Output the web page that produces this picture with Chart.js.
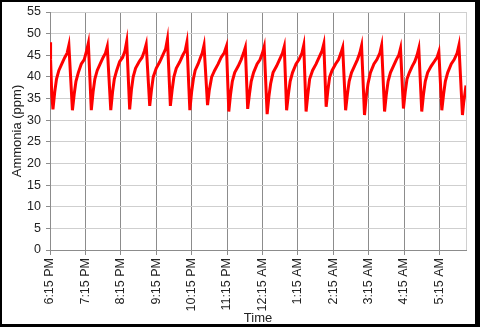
<!DOCTYPE html>
<html>
<head>
<meta charset="utf-8">
<script src="https://cdn.jsdelivr.net/npm/chart.js@4"></script>
<style>
  html, body { margin: 0; padding: 0; background: #fff; }
  #frame {
    width: 480px; height: 327px; box-sizing: border-box;
    border-style: solid; border-color: #000;
    border-width: 2px 5px 3px 2px;
    background: #fff;
  }
  #wrap { position: relative; width: 473px; height: 322px; }
</style>
</head>
<body>
<div id="frame"><div id="wrap"><canvas id="chart"></canvas></div></div>
<script>
// minutes after 6:15 PM
const minutes = [
  0, 1, 3, 5,
  8, 11, 15, 20, 25, 29, 32, 38,
  41, 44, 48, 53, 58, 62, 65, 70,
  73, 76, 80, 85, 90, 94, 97, 103,
  106, 109, 113, 118, 123, 127, 130, 135,
  138, 141, 145, 151, 156, 160, 163, 169,
  172, 175, 180, 186, 191, 196, 199, 204,
  207, 210, 214, 220, 225, 229, 232, 237,
  240, 243, 246, 251, 255, 258, 261, 267,
  270, 274, 279, 285, 290, 295, 299, 303,
  306, 309, 313, 319, 324, 328, 331, 335,
  338, 341, 345, 351, 356, 360, 363, 368,
  371, 374, 378, 384, 389, 394, 397, 401,
  404, 407, 411, 417, 422, 427, 430, 434,
  437, 440, 445, 451, 456, 461, 464, 468,
  471, 474, 478, 484, 489, 493, 496, 501,
  504, 507, 511, 516, 521, 525, 528, 533,
  536, 539, 543, 549, 554, 559, 562, 567,
  570, 573, 577, 582, 587, 591, 594, 599,
  602, 605, 609, 614, 618, 622, 625, 630,
  633, 636, 640, 646, 651, 656, 659, 664,
  667, 670, 674, 680, 685, 690, 693, 699,
  701, 703, 705
];

// ammonia (ppm)
const ammonia = [
  48, 44, 36, 32.5,
  36.5, 39.5, 41.5, 43, 44.5, 45.5, 47.3, 32.3,
  36, 39, 41, 43, 44, 46, 47.8, 32.3,
  36.5, 39.5, 41.5, 43, 44.5, 45.5, 47, 32.3,
  36.5, 39.5, 41.5, 43.5, 44.5, 46, 48.2, 32.5,
  37, 40, 42, 43.5, 44.5, 46, 47.5, 33.3,
  37, 40, 42, 43.5, 45, 46.5, 48.7, 33.3,
  37, 40, 42, 43.5, 45, 46, 48, 32.3,
  36.5, 39.5, 41.5, 43, 44.5, 45.5, 47.3, 33.5,
  37, 40, 41.5, 43, 44.5, 45.5, 47.1, 32,
  36, 39, 41, 42.5, 44, 45.5, 46.8, 32.6,
  36, 39, 41, 43, 44, 45.5, 47, 31.4,
  35.5, 38.5, 41, 42.5, 44, 45.5, 47, 32.3,
  36, 39, 41, 43, 44, 45.5, 47.3, 32,
  36, 39.5, 41.5, 43, 44.5, 46, 47.6, 33.1,
  37, 40, 41.5, 43, 44, 45.5, 46.8, 32.3,
  36, 39, 41, 42.5, 44, 45.5, 47.2, 31.2,
  35.5, 38.5, 41, 43, 44, 45.5, 47.3, 32,
  36, 39, 41, 42.5, 44, 45, 46.6, 32.7,
  36.5, 39.5, 41, 42.5, 43.5, 45, 46.6, 32,
  36, 39, 41, 42.5, 43.5, 44.5, 45.8, 32.3,
  36, 39, 41, 43, 44, 45.5, 47.3, 31.2,
  34, 36, 38
];

const yTicks = [0, 5, 10, 15, 20, 25, 30, 35, 40, 45, 50, 55];
const xTickStep = 60;
const startClock = 18 * 60 + 15; // 6:15 PM

function clockLabel(m) {
  const t = (startClock + m) % 1440;
  const h = Math.floor(t / 60), mm = t % 60;
  const h12 = h % 12 === 0 ? 12 : h % 12;
  return h12 + ":" + String(mm).padStart(2, "0") + (h < 12 ? " AM" : " PM");
}

const tickFont = { family: "'Liberation Sans', Arial, sans-serif", size: 12.5 };
const titleFont = { family: "'Liberation Sans', Arial, sans-serif", size: 13 };

new Chart(document.getElementById("chart"), {
  type: "line",
  data: {
    datasets: [{
      data: minutes.map((m, i) => ({ x: m, y: ammonia[i] })),
      borderColor: "#ff0000",
      borderWidth: 3,
      pointRadius: 0,
      tension: 0,
      fill: false
    }]
  },
  options: {
    responsive: true,
    maintainAspectRatio: false,
    animation: false,
    layout: { padding: 0 },
    plugins: { legend: { display: false }, tooltip: { enabled: false } },
    scales: {
      x: {
        type: "linear",
        min: 0,
        max: minutes[minutes.length - 1],
        afterFit: s => { s.height = 74; s.paddingLeft = 0; s.paddingRight = 9; },
        ticks: {
          stepSize: xTickStep,
          autoSkip: false,
          minRotation: 90,
          maxRotation: 90,
          padding: 3,
          color: "#222",
          font: tickFont,
          callback: v => (v % xTickStep === 0 ? clockLabel(v) : "")
        },
        grid: {
          color: c => (c.tick && c.tick.value % xTickStep !== 0 ? "#d0d0d0" : "#8c8c8c"),
          tickColor: c => (c.tick && c.tick.value % xTickStep !== 0 ? "rgba(0,0,0,0)" : "#8c8c8c"),
          tickLength: 5
        },
        border: { color: "#8c8c8c" },
        title: {
          display: true,
          text: "Time",
          color: "#222",
          font: { ...titleFont, lineHeight: 1 },
          padding: { top: 0, bottom: -1 }
        }
      },
      y: {
        min: 0,
        max: 55,
        afterFit: s => { s.width = 48; s.paddingTop = 10; s.paddingBottom = 0; },
        afterBuildTicks: s => { s.ticks = yTicks.map(v => ({ value: v })); },
        ticks: { color: "#222", font: tickFont, padding: 5 },
        grid: { color: "#cfcfcf", tickColor: "#8c8c8c", tickLength: 4 },
        border: { color: "#8c8c8c" },
        title: {
          display: true,
          text: "Ammonia (ppm)",
          color: "#222",
          font: titleFont,
          padding: { top: 8, bottom: 0 }
        }
      }
    }
  }
});
</script>
</body>
</html>
